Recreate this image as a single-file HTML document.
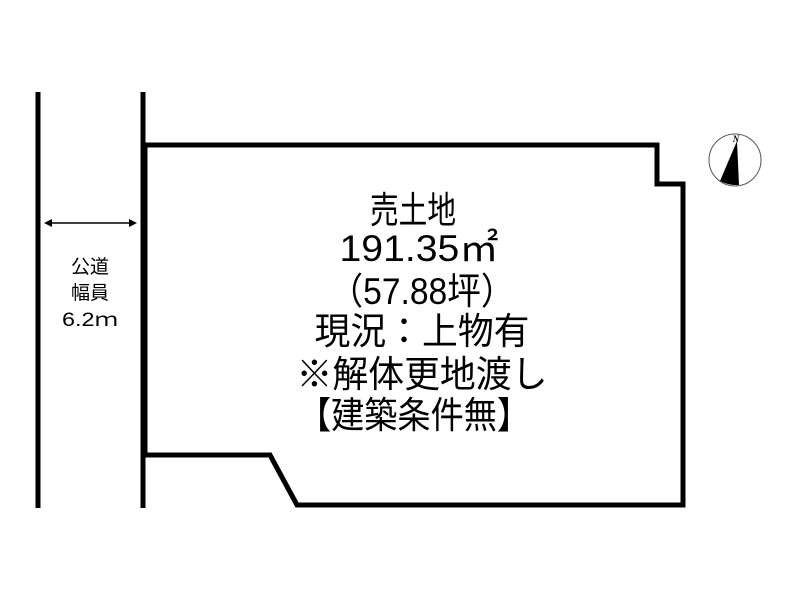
<!DOCTYPE html>
<html><head><meta charset="utf-8"><style>html,body{margin:0;padding:0;background:#fff}svg{display:block}</style></head>
<body>
<svg width="800" height="600" viewBox="0 0 800 600" xmlns="http://www.w3.org/2000/svg">
<rect width="800" height="600" fill="#fff"/>
<line x1="38" y1="92" x2="38" y2="508" stroke="#000" stroke-width="5"/>
<line x1="143" y1="92" x2="143" y2="508" stroke="#000" stroke-width="5"/>
<polygon points="145,145 657,145 657,184 683,184 683,505 297,505 270,455 145,455" fill="none" stroke="#000" stroke-width="5" stroke-linejoin="miter"/>
<line x1="48" y1="223" x2="133" y2="223" stroke="#000" stroke-width="1.5"/>
<polygon points="44,223 52,219 52,227" fill="#000"/>
<polygon points="137,223 129,219 129,227" fill="#000"/>
<g font-family="'Liberation Sans','Noto Sans CJK JP',sans-serif" font-size="19" text-anchor="middle" fill="#000">
<text x="90" y="273">公道</text>
<text x="90" y="299">幅員</text>
<text x="90" y="326" textLength="56" lengthAdjust="spacingAndGlyphs">6.2ｍ</text>
</g>
<circle cx="735" cy="160" r="26" fill="none" stroke="#555" stroke-width="1"/>
<path d="M737,141 L720,181 Q730,186 739,185 Z" fill="#000"/>
<text x="736" y="142" font-family="'Liberation Serif',serif" font-style="italic" font-weight="bold" font-size="9" text-anchor="middle">N</text>
<g font-family="'Liberation Sans','Noto Sans CJK JP',sans-serif" font-size="37" text-anchor="middle" fill="#000">
<text x="413" y="223" textLength="86" lengthAdjust="spacingAndGlyphs">売土地</text>
<text x="419" y="261" textLength="159" lengthAdjust="spacingAndGlyphs">191.35㎡</text>
<text x="422" y="304" textLength="185" lengthAdjust="spacingAndGlyphs">（57.88坪）</text>
<text x="422" y="344" textLength="215" lengthAdjust="spacingAndGlyphs">現況：上物有</text>
<text x="422" y="387" textLength="251" lengthAdjust="spacingAndGlyphs">※解体更地渡し</text>
<text x="414" y="428" textLength="232" lengthAdjust="spacingAndGlyphs">【建築条件無】</text>
</g>
</svg>
</body></html>
